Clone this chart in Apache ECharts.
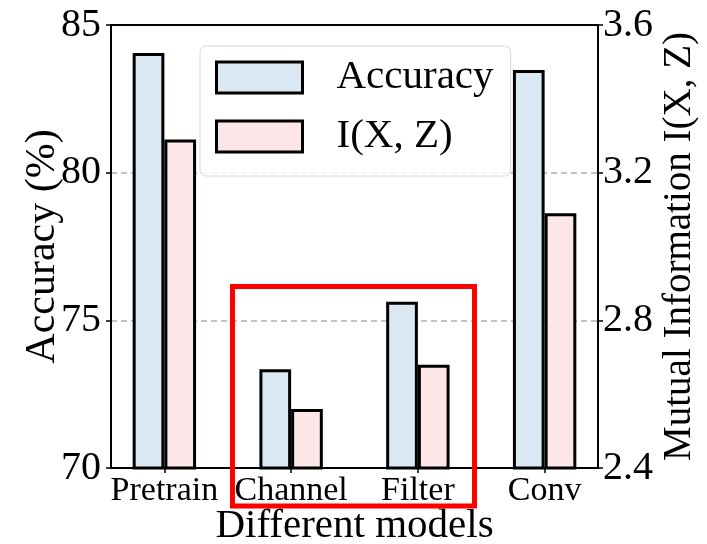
<!DOCTYPE html>
<html>
<head>
<meta charset="utf-8">
<script src="https://cdn.jsdelivr.net/npm/echarts@6/dist/echarts.min.js"></script>
<style>html,body{margin:0;padding:0;background:#fff}#c{width:707px;height:544px}</style>
</head>
<body>
<div id="c"></div>
<script>
var categories = ['Pretrain', 'Channel', 'Filter', 'Conv'];
var accuracy = [84.05, 73.34, 75.63, 83.48];
var mutualInfo = [3.29, 2.56, 2.68, 3.09];
var leftTicks = [70, 75, 80, 85];
var rightTicks = [2.4, 2.8, 3.2, 3.6];

var FONT = "'Liberation Serif', 'Times New Roman', serif";
var chart = echarts.init(document.getElementById('c'), null, {renderer: 'canvas'});

var option = {
  animation: false,
  backgroundColor: '#fff',
  grid: [
    {left: 101, right: 99, top: 25, bottom: 76, containLabel: false, outerBoundsMode: 'none'},
    {left: 111, right: 109, top: 25, bottom: 76, containLabel: false, outerBoundsMode: 'none',
     show: true, borderColor: '#000', borderWidth: 2, backgroundColor: 'transparent', z: 5}
  ],
  legend: {
    show: true,
    orient: 'vertical',
    left: 200,
    top: 46,
    padding: [11, 17, 19, 15],
    itemWidth: 86,
    itemHeight: 31,
    itemGap: 18,
    backgroundColor: 'rgba(255,255,255,0.8)',
    borderColor: '#d8d8d8',
    borderWidth: 1,
    borderRadius: 6,
    icon: 'rect',
    itemStyle: {borderColor: '#000', borderWidth: 3},
    textStyle: {fontFamily: FONT, fontSize: 41, color: '#000', padding: [0, 0, 0, 29]},
    data: ['Accuracy', 'I(X, Z)']
  },
  xAxis: [
    {
      type: 'category', gridIndex: 0, data: categories,
      boundaryGap: true,
      axisLine: {show: false},
      axisTick: {show: true, alignWithLabel: true, length: 5, lineStyle: {color: '#000', width: 1.5}},
      axisLabel: {fontFamily: FONT, fontSize: 34, color: '#000', margin: 6, interval: 0, hideOverlap: false},
      name: 'Different models', nameLocation: 'middle', nameGap: 38, nameMoveOverlap: false,
      nameTextStyle: {fontFamily: FONT, fontSize: 41, color: '#000'}
    },
    {type: 'value', gridIndex: 1, min: 0, max: 1, show: false}
  ],
  yAxis: [
    {
      type: 'value', gridIndex: 1, position: 'left', min: 70, max: 85, interval: 5,
      axisLine: {show: false},
      axisTick: {show: true, length: 5, lineStyle: {color: '#000', width: 1.5}},
      axisLabel: {fontFamily: FONT, fontSize: 40, color: '#000', margin: 10,
        formatter: function (v) { return leftTicks.indexOf(v) >= 0 ? String(v) : ''; }},
      splitLine: {show: true, showMinLine: false, showMaxLine: false, lineStyle: {color: '#b0b0b0', type: [6, 4], width: 1.5}},
      name: 'Accuracy (%)', nameLocation: 'middle', nameRotate: 90, nameGap: 47, nameMoveOverlap: false,
      nameTextStyle: {fontFamily: FONT, fontSize: 42, color: '#000'}
    },
    {
      type: 'value', gridIndex: 1, position: 'right', min: 2.4, max: 3.6, interval: 0.4,
      axisLine: {show: false},
      axisTick: {show: true, length: 5, lineStyle: {color: '#000', width: 1.5}},
      axisLabel: {fontFamily: FONT, fontSize: 40, color: '#000', margin: 5,
        formatter: function (v) { return v.toFixed(1); }},
      splitLine: {show: false},
      name: 'Mutual Information I(X, Z)', nameLocation: 'middle', nameRotate: 90, nameGap: 62, nameMoveOverlap: false,
      nameTextStyle: {fontFamily: FONT, fontSize: 39, color: '#000'}
    },
    {type: 'value', gridIndex: 0, min: 70, max: 85, show: false, splitLine: {show: false}},
    {type: 'value', gridIndex: 0, min: 2.4, max: 3.6, show: false, splitLine: {show: false}}
  ],
  series: [
    {
      name: 'Accuracy', type: 'bar', xAxisIndex: 0, yAxisIndex: 2,
      data: accuracy, barWidth: 31.7, barGap: '0%',
      itemStyle: {color: '#dae8f4', borderColor: '#000', borderWidth: 3}
    },
    {
      name: 'I(X, Z)', type: 'bar', xAxisIndex: 0, yAxisIndex: 3,
      data: mutualInfo, barWidth: 31.7, barGap: '0%',
      itemStyle: {color: '#fde6e7', borderColor: '#000', borderWidth: 3}
    }
  ],
  graphic: [
    {
      type: 'rect', z: 100,
      shape: {x: 232.5, y: 286.5, width: 242, height: 219.5},
      style: {fill: 'none', stroke: '#ff0000', lineWidth: 5}
    }
  ]
};
chart.setOption(option);
</script>
</body>
</html>
